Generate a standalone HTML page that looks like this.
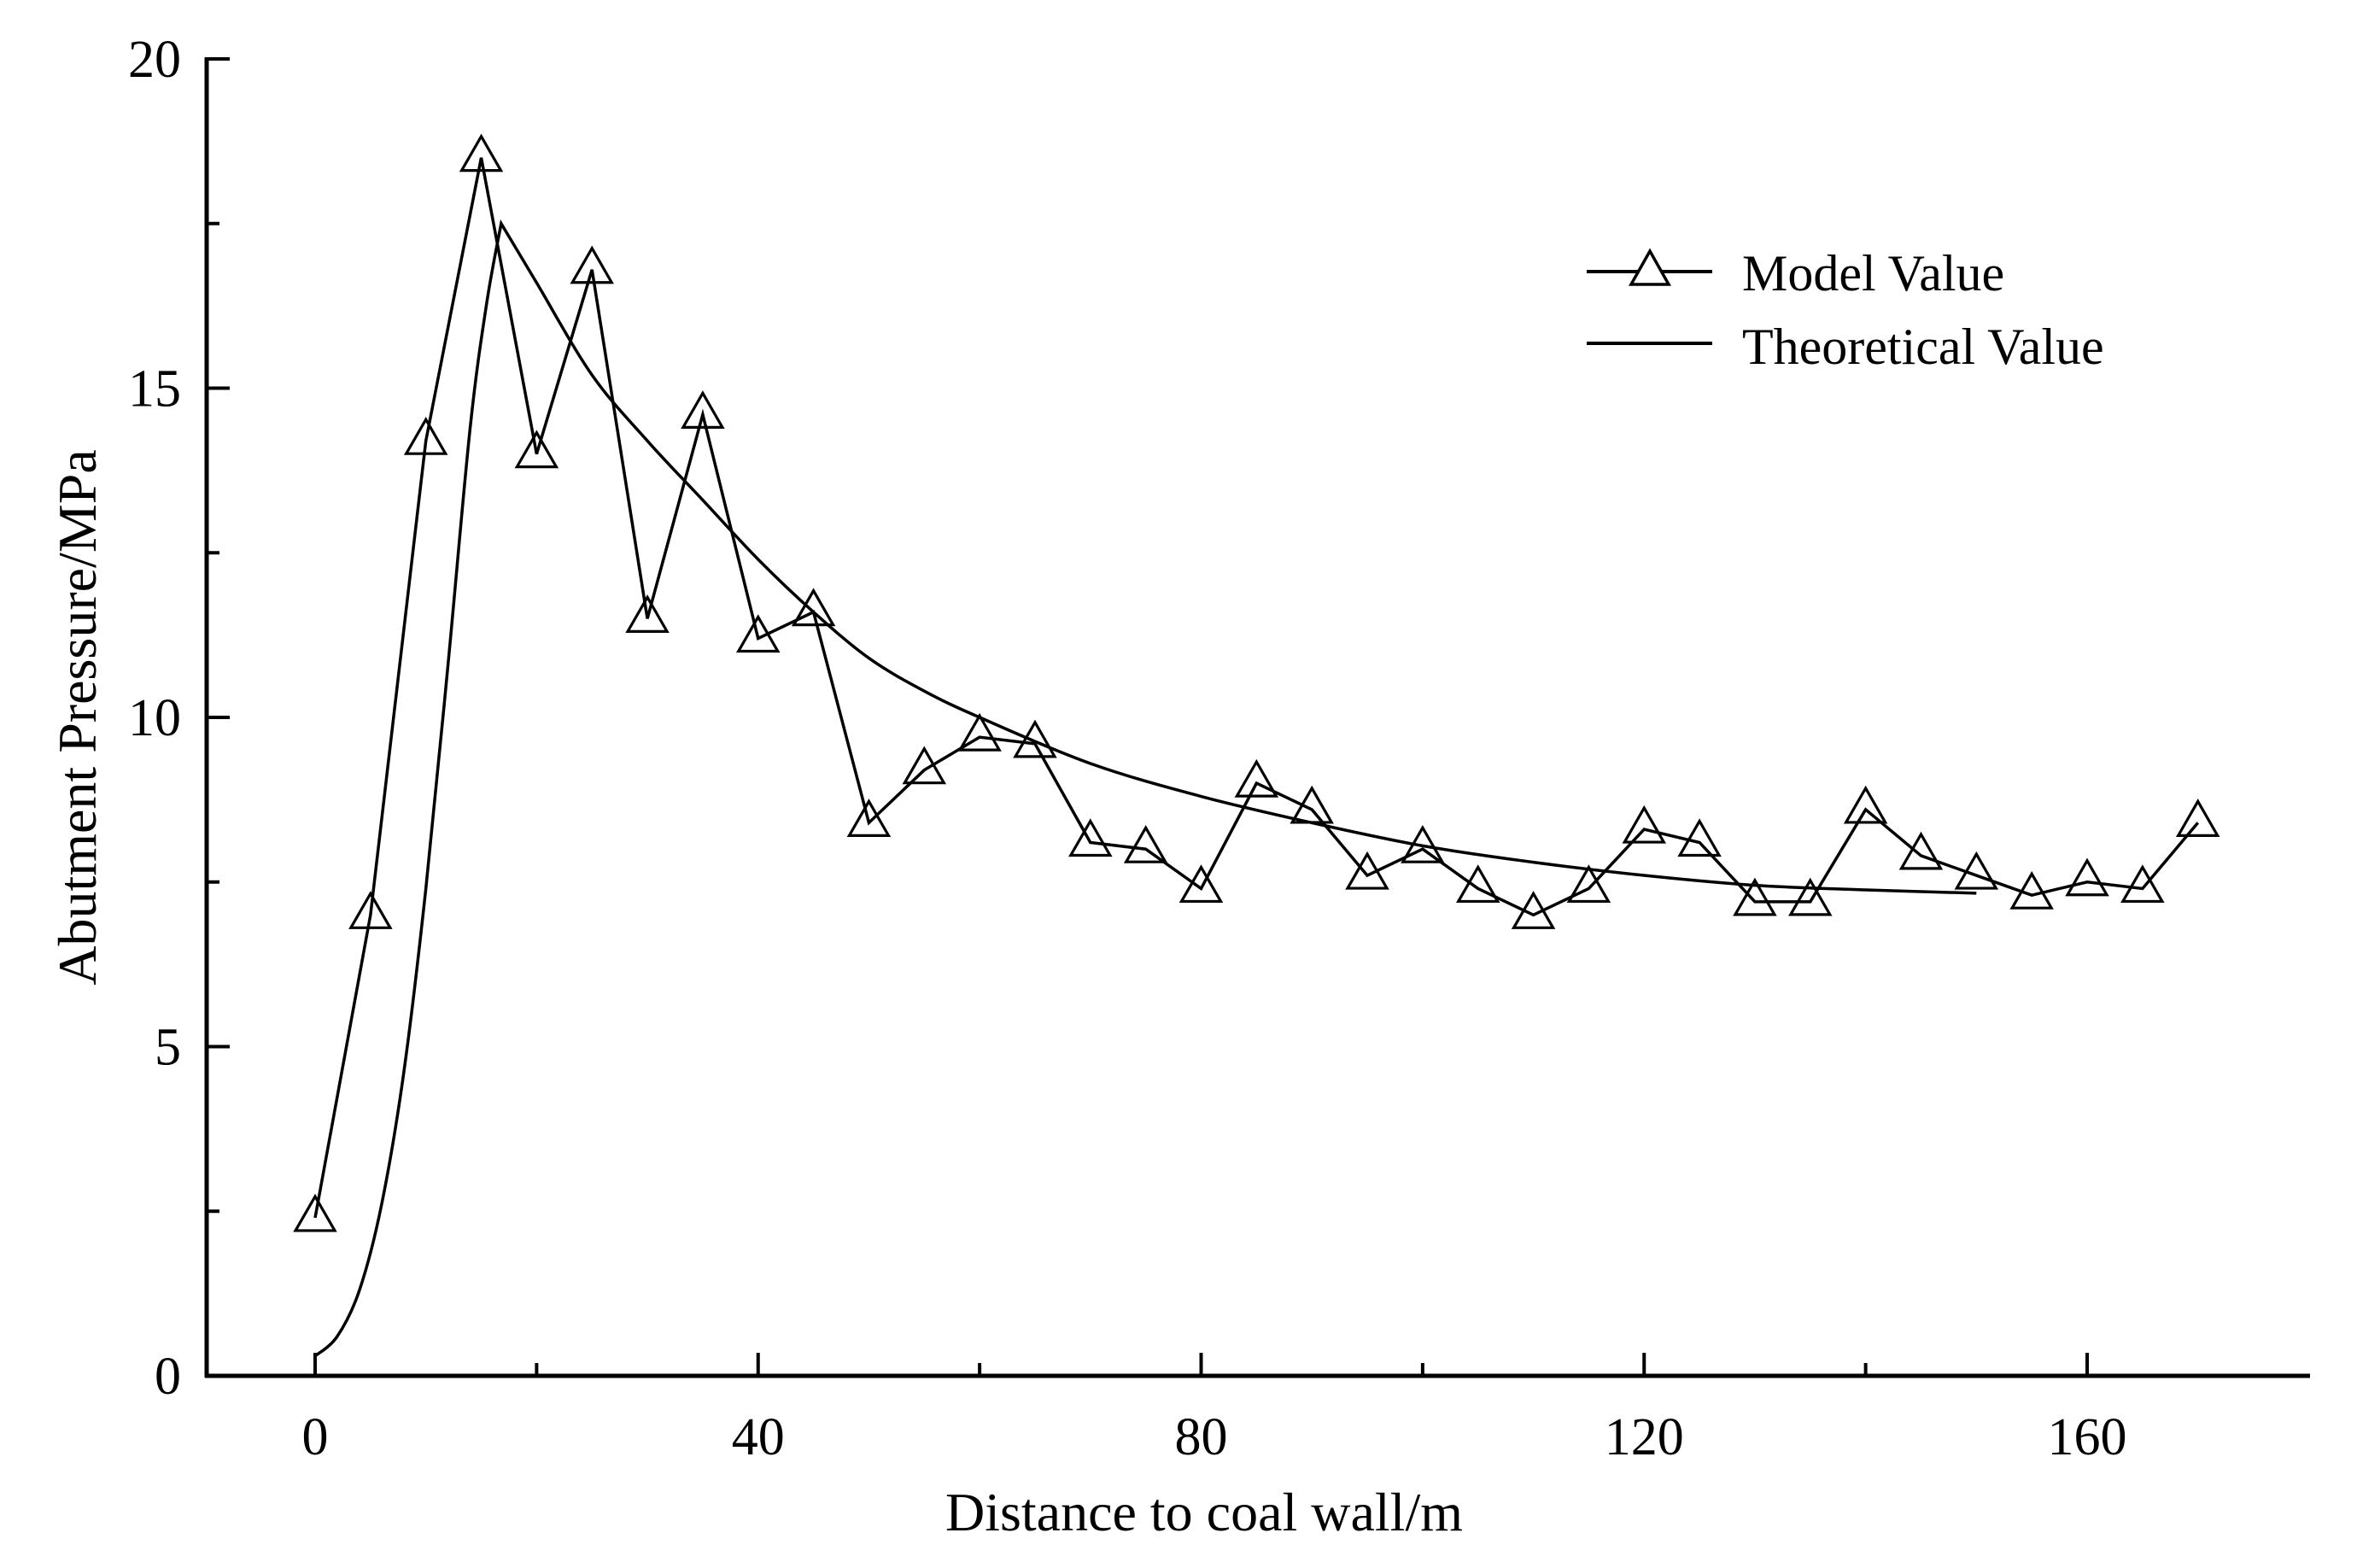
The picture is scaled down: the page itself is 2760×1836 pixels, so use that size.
<!DOCTYPE html>
<html><head><meta charset="utf-8"><style>
html,body{margin:0;padding:0;background:#fff;}
svg{display:block;font-family:"Liberation Serif",serif;}
</style></head><body>
<svg id="chart" width="2760" height="1836" viewBox="0 0 2760 1836" xmlns="http://www.w3.org/2000/svg">
<rect width="2760" height="1836" fill="#fff"/>
<g id="axes"></g>
<g id="series"></g>
<g id="legend">
  <line x1="1858" y1="318" x2="2005" y2="318" stroke="#000" stroke-width="4"/>
  <polygon points="1932,294 1954,333 1910,333" fill="#fff" stroke="#000" stroke-width="3.5"/>
  <text x="2040" y="340" font-size="60">Model Value</text>
  <line x1="1858" y1="402" x2="2005" y2="402" stroke="#000" stroke-width="4"/>
  <text x="2040" y="426" font-size="60">Theoretical Value</text>
</g>
<text x="1410" y="1792" font-size="64" text-anchor="middle">Distance to coal wall/m</text>
<text transform="translate(112,840) rotate(-90)" font-size="64" text-anchor="middle">Abutment Pressure/MPa</text>
</svg>
<script>
const modelX = [0,5,10,15,20,25,30,35,40,45,50,55,60,65,70,75,80,85,90,95,100,105,110,115,120,125,130,135,140,145,150,155,160,165,170];
const modelY = [2.4,7.0,14.2,18.5,14.0,16.8,11.5,14.6,11.2,11.6,8.4,9.2,9.7,9.6,8.1,8.0,7.4,9.0,8.6,7.6,8.0,7.4,7.0,7.4,8.3,8.1,7.2,7.2,8.6,7.9,7.6,7.3,7.5,7.4,8.4];
const theoRiseX = [0,2,4,6,8,10,12,14,15.5,16.8];
const theoRiseY = [0.3,0.6,1.3,2.6,4.6,7.4,10.8,14.4,16.3,17.5];
const theoFallX = [16.8,20,25,30,35,40,45,50,55,60,70,80,90,100,110,120,130,140,150];
const theoFallY = [17.5,16.6,15.2,14.2,13.3,12.4,11.6,10.9,10.4,10.0,9.3,8.8,8.4,8.05,7.8,7.6,7.45,7.38,7.33];
const xTicks = [0,40,80,120,160];
const yTicks = [0,5,10,15,20];

const NS = "http://www.w3.org/2000/svg";
const X0 = 369, X160 = 2444, Y0 = 1611, Y20 = 69;
function sx(v){ return X0 + (X160 - X0) * v / 160; }
function sy(v){ return Y0 - (Y0 - Y20) * v / 20; }
function mk(tag, attrs, parent){ const e = document.createElementNS(NS, tag); for (const k in attrs) e.setAttribute(k, attrs[k]); parent.appendChild(e); return e; }
function smoothPath(xs, ys){
  const p = xs.map((x,i)=>[sx(x), sy(ys[i])]);
  let d = `M${p[0][0]},${p[0][1]}`;
  for (let i=0;i<p.length-1;i++){
    const p0 = p[Math.max(0,i-1)], p1 = p[i], p2 = p[i+1], p3 = p[Math.min(p.length-1,i+2)];
    const c1 = [p1[0]+(p2[0]-p0[0])/6, p1[1]+(p2[1]-p0[1])/6];
    const c2 = [p2[0]-(p3[0]-p1[0])/6, p2[1]-(p3[1]-p1[1])/6];
    d += ` C${c1[0]},${c1[1]} ${c2[0]},${c2[1]} ${p2[0]},${p2[1]}`;
  }
  return d;
}

const axes = document.getElementById('axes');
const xa = mk('line', {x1:240, y1:Y0, x2:2705, y2:Y0, stroke:'#000', 'stroke-width':5}, axes);


const ya = mk('line', {x1:242, y1:Y0+2, x2:242, y2:Y20-2, stroke:'#000', 'stroke-width':5}, axes);


for (let v = 0; v <= 160; v += 20) {
  const major = xTicks.includes(v);
  const t = mk('line', {x1:sx(v), y1:Y0, x2:sx(v), y2:Y0 - (major ? 27 : 15), stroke:'#000', 'stroke-width':4}, axes);
  
  
}
xTicks.forEach(v => {
  const t = mk('text', {x:sx(v), y:1703, 'font-size':62, 'text-anchor':'middle'}, axes);
  t.textContent = v;
  
  
});
for (let v = 0; v <= 20; v += 2.5) {
  const major = yTicks.includes(v);
  const t = mk('line', {x1:242, y1:sy(v), x2:242 + (major ? 27 : 15), y2:sy(v), stroke:'#000', 'stroke-width':4}, axes);
  
  
}
yTicks.forEach(v => {
  const t = mk('text', {x:212, y:sy(v) + 21, 'font-size':62, 'text-anchor':'end'}, axes);
  t.textContent = v;
  
  
});

const series = document.getElementById('series');
const theo = mk('path', {d: smoothPath(theoRiseX, theoRiseY) + ' ' + smoothPath(theoFallX, theoFallY).replace('M','L'), fill:'none', stroke:'#000', 'stroke-width':3.5, 'stroke-linejoin':'miter'}, series);


const model = mk('polyline', {points: modelX.map((x,i)=>sx(x)+','+sy(modelY[i])).join(' '), fill:'none', stroke:'#000', 'stroke-width':3.5, 'stroke-linejoin':'miter'}, series);


modelX.forEach((x,i) => {
  const cx = sx(x), cy = sy(modelY[i]);
  const p = mk('polygon', {points: `${cx},${cy-25} ${cx+23},${cy+15} ${cx-23},${cy+15}`, fill:'none', stroke:'#000', 'stroke-width':3.2}, series);
  
  
});
</script>
</body></html>
